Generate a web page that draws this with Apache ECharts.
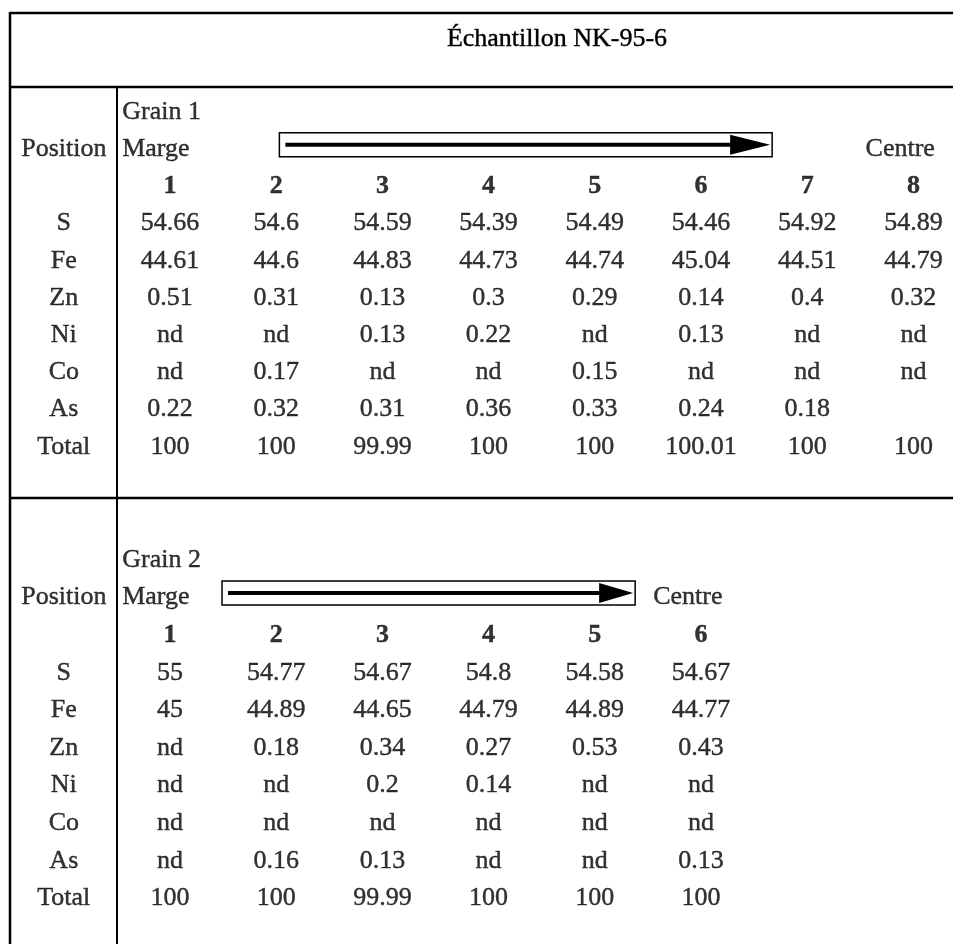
<!DOCTYPE html>
<html>
<head>
<meta charset="utf-8">
<script src="https://cdn.jsdelivr.net/npm/echarts@6/dist/echarts.min.js"></script>
<style>html,body{margin:0;padding:0;background:#fff;}#chart{width:953px;height:944px;}</style>
</head>
<body>
<div id="chart"></div>
<script>
// ---- data ----
const titleText = 'Échantillon NK-95-6';
const rowKeys = ['Grain', 'Position', 'Num', 'S', 'Fe', 'Zn', 'Ni', 'Co', 'As', 'Total'];
const elements = ['S', 'Fe', 'Zn', 'Ni', 'Co', 'As', 'Total'];

const g1Name = 'Grain 1';
const g1Positions = ['1', '2', '3', '4', '5', '6', '7', '8'];
const g1S = ['54.66', '54.6', '54.59', '54.39', '54.49', '54.46', '54.92', '54.89'];
const g1Fe = ['44.61', '44.6', '44.83', '44.73', '44.74', '45.04', '44.51', '44.79'];
const g1Zn = ['0.51', '0.31', '0.13', '0.3', '0.29', '0.14', '0.4', '0.32'];
const g1Ni = ['nd', 'nd', '0.13', '0.22', 'nd', '0.13', 'nd', 'nd'];
const g1Co = ['nd', '0.17', 'nd', 'nd', '0.15', 'nd', 'nd', 'nd'];
const g1As = ['0.22', '0.32', '0.31', '0.36', '0.33', '0.24', '0.18', ''];
const g1Total = ['100', '100', '99.99', '100', '100', '100.01', '100', '100'];

const g2Name = 'Grain 2';
const g2Positions = ['1', '2', '3', '4', '5', '6'];
const g2S = ['55', '54.77', '54.67', '54.8', '54.58', '54.67'];
const g2Fe = ['45', '44.89', '44.65', '44.79', '44.89', '44.77'];
const g2Zn = ['nd', '0.18', '0.34', '0.27', '0.53', '0.43'];
const g2Ni = ['nd', 'nd', '0.2', '0.14', 'nd', 'nd'];
const g2Co = ['nd', 'nd', 'nd', 'nd', 'nd', 'nd'];
const g2As = ['nd', '0.16', '0.13', 'nd', 'nd', '0.13'];
const g2Total = ['100', '100', '99.99', '100', '100', '100'];

// arrow spans (in column units) and "Centre" column
const g1Arrow = [2.03, 6.67];
const g2Arrow = [1.49, 5.38];
const g1CentreCol = 7.55;
const g2CentreCol = 5.55;

// ---- build ----
const FONT = "'Liberation Serif', 'Times New Roman', serif";
const FS = 26;
const baseLabel = { show: true, color: '#000', fontFamily: FONT, fontSize: FS,
  textBorderColor: '#000', textBorderWidth: 0.4 };

function grainSeries(gi, name, positions, cols, arrow, centreCol) {
  const cells = [];
  elements.forEach((e, r) => {
    cols[r].forEach((v, c) => { if (v !== '') cells.push([c + 1, e, v]); });
  });
  const rowLabels = elements.map(e => [0, e, e]);
  rowLabels.push([0, 'Position', 'Position']);
  const header = positions.map((p, c) => [c + 1, 'Num', p]);
  const leftLabels = [[0.55, 'Grain', name], [0.55, 'Position', 'Marge'], [centreCol, 'Position', 'Centre']];
  const common = { type: 'scatter', xAxisIndex: gi, yAxisIndex: gi, symbolSize: 0,
    itemStyle: { color: 'rgba(0,0,0,0)' }, silent: true, emphasis: { disabled: true } };
  return [
    Object.assign({}, common, { data: cells,
      label: Object.assign({}, baseLabel, { position: 'inside', formatter: p => p.value[2] }) }),
    Object.assign({}, common, { data: rowLabels,
      label: Object.assign({}, baseLabel, { position: 'inside', formatter: p => p.value[2] }) }),
    Object.assign({}, common, { data: header,
      label: Object.assign({}, baseLabel, { position: 'inside', fontWeight: 'bold', formatter: p => p.value[2] }) }),
    Object.assign({}, common, { data: leftLabels,
      label: Object.assign({}, baseLabel, { position: 'right', distance: 0, formatter: p => p.value[2] }) }),
    {
      type: 'custom', xAxisIndex: gi, yAxisIndex: gi, silent: true,
      encode: { x: [0, 1], y: 2 },
      data: [[arrow[0], arrow[1], 'Position']],
      renderItem: function (params, api) {
        const yv = api.value(2);
        const a = api.coord([api.value(0), yv]);
        const b = api.coord([api.value(1), yv]);
        const y = a[1] - 4.5;
        const x0 = a[0], x1 = b[0];
        const h = 24;
        const headW = gi === 0 ? 40 : 34;
        return {
          type: 'group',
          children: [
            { type: 'rect', shape: { x: x0, y: y - h / 2, width: x1 - x0, height: h },
              style: { fill: 'none', stroke: '#000', lineWidth: 1.5 } },
            { type: 'line', shape: { x1: x0 + 6, y1: y, x2: x1 - headW, y2: y },
              style: { stroke: '#000', lineWidth: 4 } },
            { type: 'polygon', shape: { points: [[x1 - headW - 2, y - 10], [x1 - 2, y], [x1 - headW - 2, y + 10]] },
              style: { fill: '#000' } }
          ]
        };
      }
    }
  ];
}

const series = [].concat(
  grainSeries(0, g1Name, g1Positions, [g1S, g1Fe, g1Zn, g1Ni, g1Co, g1As, g1Total], g1Arrow, g1CentreCol),
  grainSeries(1, g2Name, g2Positions, [g2S, g2Fe, g2Zn, g2Ni, g2Co, g2As, g2Total], g2Arrow, g2CentreCol)
);

const xAxisBase = { type: 'value', min: -0.5, max: 8.373, show: false };
const yAxisBase = { type: 'category', data: rowKeys, inverse: true, show: false };

const option = {
  animation: false,
  backgroundColor: '#fff',
  title: {
    text: titleText, left: 552, top: 20, textAlign: 'center',
    textStyle: { fontFamily: FONT, fontSize: FS, fontWeight: 'normal', color: '#000', lineHeight: 28,
      textBorderColor: '#000', textBorderWidth: 0.4 }
  },
  grid: [
    { left: 10.7, right: 0, top: 93.4, height: 372 },
    { left: 10.7, right: 0, top: 541.2, height: 376 }
  ],
  xAxis: [Object.assign({ gridIndex: 0 }, xAxisBase), Object.assign({ gridIndex: 1 }, xAxisBase)],
  yAxis: [Object.assign({ gridIndex: 0 }, yAxisBase), Object.assign({ gridIndex: 1 }, yAxisBase)],
  graphic: [
    { type: 'line', shape: { x1: 10, y1: 13, x2: 953, y2: 13 }, style: { stroke: '#000', lineWidth: 2.5 } },
    { type: 'line', shape: { x1: 10, y1: 12, x2: 10, y2: 944 }, style: { stroke: '#000', lineWidth: 2.5 } },
    { type: 'line', shape: { x1: 10, y1: 87, x2: 953, y2: 87 }, style: { stroke: '#000', lineWidth: 2.5 } },
    { type: 'line', shape: { x1: 117, y1: 87, x2: 117, y2: 944 }, style: { stroke: '#000', lineWidth: 2 } },
    { type: 'line', shape: { x1: 10, y1: 498, x2: 953, y2: 498 }, style: { stroke: '#000', lineWidth: 2.5 } }
  ],
  series: series
};

const chart = echarts.init(document.getElementById('chart'));
chart.setOption(option);
</script>
</body>
</html>
